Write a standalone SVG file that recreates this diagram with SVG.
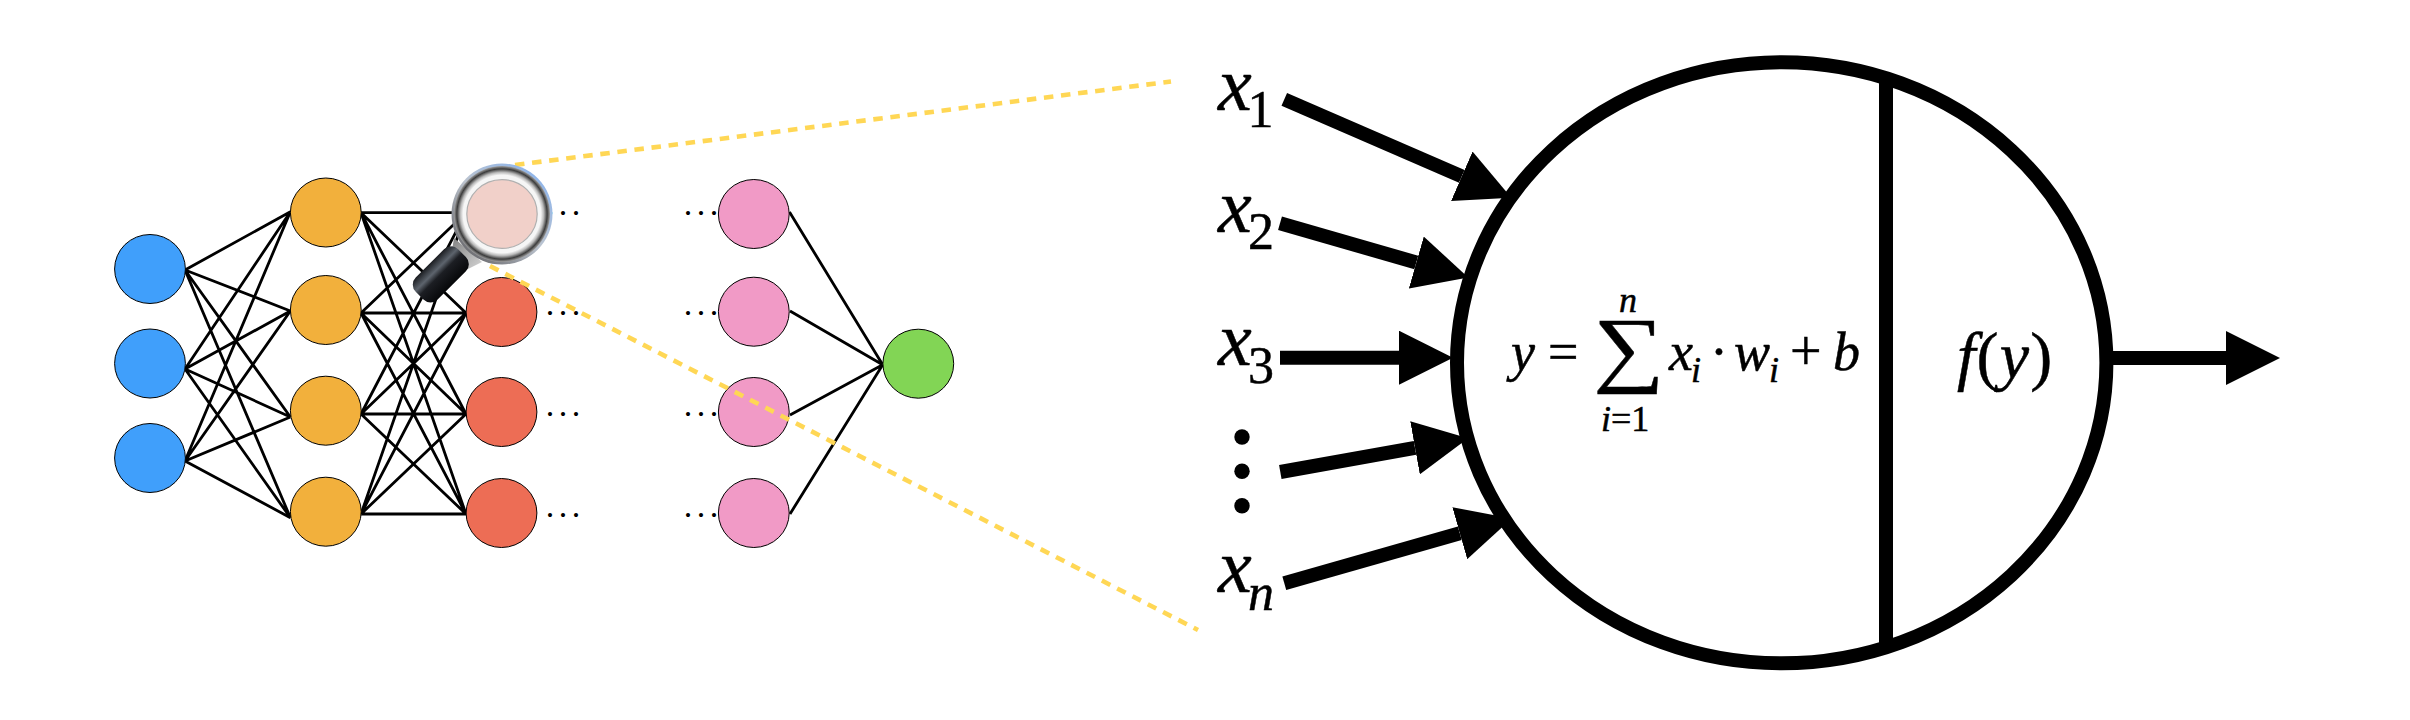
<svg xmlns="http://www.w3.org/2000/svg" width="2410" height="720" viewBox="0 0 2410 720">
<style>
.edge{stroke:#000;stroke-width:2.8;fill:none}
.node{stroke:#000;stroke-width:1}
.guide{stroke:#ffd755;stroke-width:4.6;stroke-dasharray:9.5 7.7;fill:none}
.shaft{stroke:#000;stroke-width:14;fill:none}
.math{font-family:"Liberation Serif","Times New Roman",serif;font-style:italic;fill:#000;stroke:#000;stroke-width:.5}
.roman{font-style:normal}
.ell{font-family:"Liberation Serif",serif;font-size:34px;letter-spacing:4.5px;fill:#000}
</style>
<defs>
<marker id="head" markerUnits="userSpaceOnUse" markerWidth="54" markerHeight="54" refX="0" refY="27" orient="auto"><path d="M0 0L54 27L0 54Z" fill="#000"/></marker>
<linearGradient id="mgEdge" x1="0.85" y1="0.1" x2="0.15" y2="0.9"><stop offset="0" stop-color="#8fb5ea"/><stop offset="0.5" stop-color="#bcc4cf"/><stop offset="1" stop-color="#6c6c70"/></linearGradient>
<radialGradient id="mgMetal" cx="0.5" cy="0.5" r="0.5"><stop offset="0.81" stop-color="#f6f6f6"/><stop offset="0.87" stop-color="#b9b9b9"/><stop offset="0.94" stop-color="#3c3c3c"/><stop offset="1" stop-color="#a0a0a0"/></radialGradient>
<linearGradient id="mgHandle" x1="0" y1="0" x2="0" y2="1"><stop offset="0" stop-color="#1a1c20"/><stop offset="0.3" stop-color="#5d646d"/><stop offset="0.5" stop-color="#1c1e23"/><stop offset="1" stop-color="#07080a"/></linearGradient>
<linearGradient id="mgNeck" x1="0" y1="0" x2="1" y2="1"><stop offset="0" stop-color="#808080"/><stop offset="1" stop-color="#d6d6d6"/></linearGradient>
</defs>

<g id="connectors">
<path class="edge" d="M185 270L290.4 211.7M185 270L290.4 311M185 270L290.4 417M185 270L290.4 517.7M185 369L290.4 211.7M185 369L290.4 311M185 369L290.4 417M185 369L290.4 517.7M185 461L290.4 211.7M185 461L290.4 311M185 461L290.4 417M185 461L290.4 517.7"/>
<path class="edge" d="M361 212.7L466 212.7M361 212.7L466 313M361 212.7L466 414M361 212.7L466 514M361 313L466 212.7M361 313L466 313M361 313L466 414M361 313L466 514M361 414L466 212.7M361 414L466 313M361 414L466 414M361 414L466 514M361 514L466 212.7M361 514L466 313M361 514L466 414M361 514L466 514"/>
<path class="edge" d="M789.5 212L882.7 364.7M790 311L882.7 364.7M790 415L882.7 364.7M790 514L882.7 364.7"/>
<line class="shaft" x1="1284.3" y1="99.3" x2="1461.8" y2="176.3" marker-end="url(#head)"/>
<line class="shaft" x1="1280" y1="223.3" x2="1416.3" y2="262.5" marker-end="url(#head)"/>
<line class="shaft" x1="1280" y1="357.7" x2="1399" y2="357.7" marker-end="url(#head)"/>
<line class="shaft" x1="1280.3" y1="472" x2="1415" y2="447.8" marker-end="url(#head)"/>
<line class="shaft" x1="1284.3" y1="583.3" x2="1459.8" y2="533.2" marker-end="url(#head)"/>
<line class="shaft" x1="2106" y1="358" x2="2226" y2="358" marker-end="url(#head)"/>
</g>

<g id="input-nodes" fill="#409ffb">
<ellipse id="in1" class="node" cx="150" cy="269" rx="35.4" ry="34.5"/>
<ellipse id="in2" class="node" cx="150" cy="363.5" rx="35.4" ry="34.5"/>
<ellipse id="in3" class="node" cx="150" cy="458" rx="35.4" ry="34.5"/>
</g>
<g id="hidden1-nodes" fill="#f2b03c">
<ellipse id="h1a" class="node" cx="325.8" cy="212.5" rx="35.4" ry="34.5"/>
<ellipse id="h1b" class="node" cx="325.8" cy="310" rx="35.4" ry="34.5"/>
<ellipse id="h1c" class="node" cx="325.8" cy="410.7" rx="35.4" ry="34.5"/>
<ellipse id="h1d" class="node" cx="325.8" cy="511.7" rx="35.4" ry="34.5"/>
</g>
<g id="hidden2-nodes" fill="#ed6d55">
<ellipse id="h2a" class="node" cx="501.5" cy="214" rx="35.4" ry="34.5"/>
<ellipse id="h2b" class="node" cx="501.5" cy="312" rx="35.4" ry="34.5"/>
<ellipse id="h2c" class="node" cx="501.5" cy="412" rx="35.4" ry="34.5"/>
<ellipse id="h2d" class="node" cx="501.5" cy="513" rx="35.4" ry="34.5"/>
</g>
<g id="hidden3-nodes" fill="#f19ac6">
<ellipse id="h3a" class="node" cx="753.8" cy="214" rx="35.4" ry="34.5"/>
<ellipse id="h3b" class="node" cx="753.8" cy="311.7" rx="35.4" ry="34.5"/>
<ellipse id="h3c" class="node" cx="753.8" cy="412" rx="35.4" ry="34.5"/>
<ellipse id="h3d" class="node" cx="753.8" cy="513" rx="35.4" ry="34.5"/>
</g>
<g id="output-node" fill="#82d555">
<ellipse id="out" class="node" cx="918.3" cy="363.7" rx="35.4" ry="34.5"/>
</g>

<g id="ellipses">
<text class="ell" x="545.8" y="215">...</text>
<text class="ell" x="545.8" y="315">...</text>
<text class="ell" x="545.8" y="416">...</text>
<text class="ell" x="545.8" y="517">...</text>
<text class="ell" x="683.8" y="215">...</text>
<text class="ell" x="683.8" y="315">...</text>
<text class="ell" x="683.8" y="416">...</text>
<text class="ell" x="683.8" y="517">...</text>
</g>

<g id="zoom-guides">
<line class="guide" x1="515" y1="165" x2="1171" y2="81.5"/>
<line class="guide" x1="490" y1="266" x2="1198" y2="630"/>
</g>

<g id="magnifier">
<path d="M454 238L482 262L466 270L450 264Z" fill="url(#mgNeck)"/>
<rect x="-30" y="-15.5" width="60" height="31" rx="10" fill="url(#mgHandle)" transform="translate(440.8 274.4) rotate(-45)"/>
<circle cx="502" cy="214" r="50.5" fill="url(#mgEdge)"/>
<circle cx="502" cy="214" r="48" fill="url(#mgMetal)"/>
<ellipse cx="502" cy="214" rx="35.2" ry="34.4" fill="#f1d0c9" stroke="#b0b0b0" stroke-width="1.2"/>
</g>

<g id="neuron">
<ellipse cx="1781.7" cy="362.8" rx="324.7" ry="300.5" fill="none" stroke="#000" stroke-width="14"/>
<line x1="1886" y1="78" x2="1886" y2="648" stroke="#000" stroke-width="14"/>
<text class="math" font-size="54" x="1511" y="370">y</text>
<text class="math roman" font-size="54" x="1548" y="370">=</text>
<text class="math roman" font-size="100" transform="translate(1593 375.7) scale(1 .84)" stroke-width="1.2">∑</text>
<text class="math" font-size="36" x="1619" y="311.7">n</text>
<text class="math" font-size="36" x="1601" y="430.7">i<tspan class="roman">=1</tspan></text>
<text class="math" font-size="54" x="1669" y="370">x</text>
<text class="math" font-size="36" x="1691" y="382">i</text>
<text class="math roman" font-size="54" x="1710" y="370">·</text>
<text class="math" font-size="54" x="1734" y="370">w</text>
<text class="math" font-size="36" x="1769" y="382">i</text>
<text class="math roman" font-size="56" x="1790" y="370">+</text>
<text class="math" font-size="54" x="1833" y="370">b</text>
<text class="math" font-size="66" x="1957" y="378" letter-spacing="1.2">f<tspan class="roman">(</tspan>y<tspan class="roman">)</tspan></text>
</g>

<g id="inputs">
<text class="math" font-size="76" x="1218" y="110">x</text>
<text class="math roman" font-size="52" x="1247.5" y="127.3">1</text>
<text class="math" font-size="76" x="1218" y="231.7">x</text>
<text class="math roman" font-size="52" x="1248" y="249.3">2</text>
<text class="math" font-size="76" x="1218" y="365">x</text>
<text class="math roman" font-size="52" x="1248" y="382.5">3</text>
<circle cx="1242" cy="437" r="7.7"/>
<circle cx="1242" cy="471.3" r="7.7"/>
<circle cx="1242" cy="505.7" r="7.7"/>
<text class="math" font-size="76" x="1218" y="591.7">x</text>
<text class="math" font-size="52" x="1248" y="610">n</text>
</g>
</svg>
